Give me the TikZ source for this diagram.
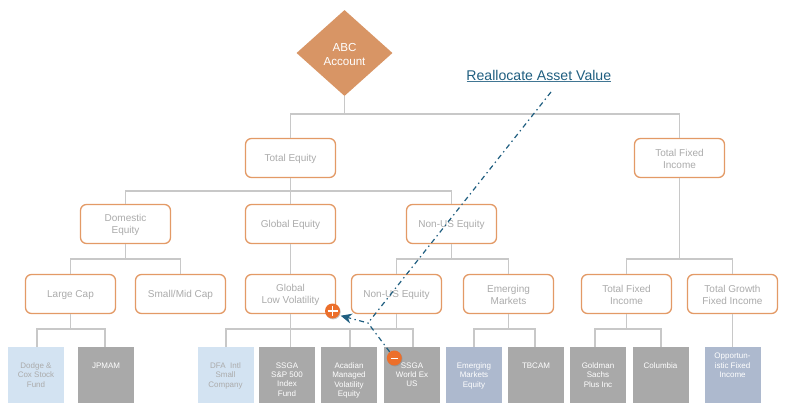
\documentclass[tikz,border=0pt]{standalone}
\usepackage{fontspec}
\setmainfont{Liberation Sans}
\usetikzlibrary{shapes.geometric,arrows.meta,shadows}
\definecolor{boxedge}{HTML}{E39A66}
\definecolor{wire}{HTML}{C8C8C8}
\definecolor{labelgrey}{HTML}{ABABAB}
\definecolor{diam}{HTML}{D89565}
\definecolor{lightblue}{HTML}{D3E3F2}
\definecolor{slate}{HTML}{ADB9CE}
\definecolor{midgrey}{HTML}{A9A9A9}
\definecolor{teal}{HTML}{1F5E80}
\definecolor{badge}{HTML}{EC6F2B}
\tikzset{
 catbox/.style={draw=boxedge,line width=1.3pt,rounded corners=6pt,fill=white,minimum width=90pt,minimum height=39pt,inner sep=0pt},
 cattext/.style={text=labelgrey,font=\fontsize{10}{12}\selectfont,align=center,inner sep=0pt},
 fund/.style={minimum width=56pt,minimum height=56pt,inner sep=0pt,anchor=north},
 fundtext/.style={anchor=north,font=\fontsize{8}{9.4}\selectfont,align=center,inner sep=0pt},
 wireline/.style={draw=wire,line width=1.3pt},
 reall/.style={draw=teal,line width=1.2pt,dash pattern=on 5pt off 3.5pt on 1.4pt off 3.5pt},
 badgenode/.style={circle,fill=badge,minimum size=15pt,inner sep=0pt,drop shadow={shadow xshift=0.7pt,shadow yshift=-0.9pt,opacity=.45}}
}
\newcommand{\fundbox}[6][362.4]{% [text top], name, x, fill, text colour, label
 \node[fund,fill=#4] (#2) at (#3,347) {};
 \node[fundtext,text=#5] (#2t) at (#3,#1) {#6};
}
\newcommand{\catnode}[4]{% name, x, y, label
 \node[catbox] (#1) at (#2,#3) {};
 \node[cattext] (#1t) at (#2,#3+0.8) {#4};
}
\begin{document}
\begin{tikzpicture}[x=1pt,y=-1pt]
\useasboundingbox (0,0) rectangle (785,417);
% junctions (free ends)
\coordinate (j0) at (344.5,114);
\coordinate (j1) at (290.5,191);
\coordinate (j2) at (125.5,259);
\coordinate (j3) at (451.5,259);
\coordinate (j4) at (70.5,329);
\coordinate (j5) at (290.5,329);
\coordinate (j6) at (396.5,329);
\coordinate (j7) at (508.5,329);
\coordinate (j8) at (626.5,329);
\coordinate (j9) at (679.5,259);
% root
\node[diamond,fill=diam,minimum width=96pt,minimum height=86pt,inner sep=0pt,aspect=1.12] (root) at (344.5,53) {};
\node[text=white,font=\fontsize{11.6}{14.3}\selectfont,align=center,inner sep=0pt] (roott) at (344.5,54.2) {ABC\\Account};
% wires sit under the boxes
\catnode{te}{290.5}{158}{Total Equity}
\catnode{tfi}{679.5}{158}{Total Fixed\\Income}
\catnode{de}{125.5}{224}{Domestic\\Equity}
\catnode{ge}{290.5}{224}{Global Equity}
\catnode{nu}{451.5}{224}{Non-US Equity}
\catnode{lc}{70.5}{294}{Large Cap}
\catnode{sm}{180.5}{294}{Small/Mid Cap}
\catnode{gl}{290.5}{294}{Global\\Low Volatility}
\catnode{nu2}{396.5}{294}{Non-US Equity}
\catnode{em}{508.5}{294}{Emerging\\Markets}
\catnode{tf2}{626.5}{294}{Total Fixed\\Income}
\catnode{tg}{732.5}{294}{Total Growth\\Fixed Income}
% funds
\fundbox{f1}{36}{lightblue}{labelgrey}{Dodge \&\\Cox Stock\\Fund}
\fundbox{f2}{106}{midgrey}{white}{JPMAM}
\fundbox{f3}{225.5}{lightblue}{labelgrey}{DFA\ \ Intl\\Small\\Company}
\fundbox{f4}{287}{midgrey}{white}{SSGA\\S\&P 500\\Index\\Fund}
\fundbox{f5}{349}{midgrey}{white}{Acadian\\Managed\\Volatility\\Equity}
\fundbox{f6}{412}{midgrey}{white}{SSGA\\World Ex\\US}
\fundbox{f7}{474}{slate}{white}{Emerging\\Markets\\Equity}
\fundbox{f8}{536}{midgrey}{white}{TBCAM}
\fundbox{f9}{598}{midgrey}{white}{Goldman\\Sachs\\Plus Inc}
\fundbox{f10}{660.5}{midgrey}{white}{Columbia}
\fundbox[353]{f11}{732.5}{slate}{white}{Opportun-\\istic Fixed\\Income}
% wires
\begin{scope}[wireline]
\draw (root.south) -- (j0);
\draw (te.north) |- (j0) -| (tfi.north);
\draw (te.south) -- (j1);
\draw (de.north) |- (j1) -| (nu.north);
\draw (j1) -- (ge.north);
\draw (de.south) -- (j2);
\draw (lc.north) |- (j2) -| (sm.north);
\draw (ge.south) -- (gl.north);
\draw (nu.south) -- (j3);
\draw (nu2.north) |- (j3) -| (em.north);
\draw (tfi.south) -- (j9);
\draw (tf2.north) |- (j9) -| (tg.north);
\draw (lc.south) -- (j4);
\draw (37,347) |- (j4) -| (105,347);
\draw (gl.south) -- (290.5,347);
\draw (226,347) |- (j5) -- (j6);
\draw (350,329) -- (350,347);
\draw (nu2.south) -- (j6) -| (413,347);
\draw (em.south) -- (j7);
\draw (474,347) |- (j7) -| (535,347);
\draw (tf2.south) -- (j8);
\draw (595,347) |- (j8) -| (661,347);
\draw (tg.south) -- (f11.north);
\end{scope}
% title
\node[text=teal,font=\fontsize{14.1}{16}\selectfont,inner sep=0pt] (title) at (538.8,75) {Reallocate Asset Value};
\draw[teal!85,line width=1pt] (466.5,81.8) -- (611,81.8);
% reallocate arrows
\node[badgenode] (plus) at (332.5,311) {};
\draw[white,line width=1.9pt] (327.5,311) -- (337.5,311) (332.5,306) -- (332.5,316);
\node[badgenode] (minus) at (394.3,358) {};
\draw[white,line width=1.7pt] (390.8,358.5) -- (397.8,358.5);
\coordinate (start) at (551,92);
\coordinate (bend) at (368,323);
\coordinate (tip) at (340.7,315.7);
\draw[reall] (start) -- (bend);
\draw[reall,-{Stealth[length=11pt,width=10pt,inset=3.5pt]}] (minus) -- (bend) -- (tip);
\end{tikzpicture}
\end{document}
